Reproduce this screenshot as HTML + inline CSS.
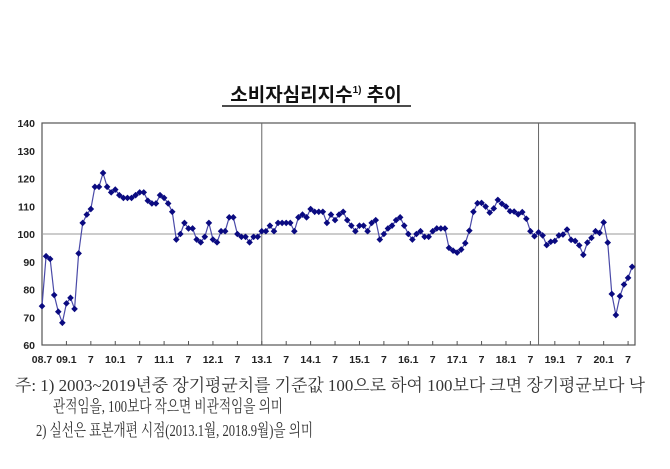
<!DOCTYPE html>
<html><head><meta charset="utf-8"><style>
body{margin:0;background:#fff;width:670px;height:469px;overflow:hidden}
svg{display:block}
.nt{font-family:"Liberation Serif","Noto Serif CJK SC","Noto Sans CJK KR",serif;font-size:17px;fill:#333}
</style></head><body>
<svg id="c" width="670" height="469">
<text x="316" y="101" text-anchor="middle" font-family="Liberation Sans,'Noto Sans CJK KR',sans-serif" font-size="19" font-weight="bold" fill="#111">소비자심리지수<tspan font-size="10" dy="-8">1)</tspan><tspan dy="8"> 추이</tspan></text>
<line x1="222" y1="106" x2="411" y2="106" stroke="#111" stroke-width="1.5"/>
<g id="plot"></g>
<text class="nt" x="15" y="391" textLength="630" lengthAdjust="spacingAndGlyphs">주: 1) 2003~2019년중 장기평균치를 기준값 100으로 하여 100보다 크면 장기평균보다 낙</text>
<text class="nt" x="53" y="412" textLength="230" lengthAdjust="spacingAndGlyphs">관적임을, 100보다 작으면 비관적임을 의미</text>
<text class="nt" x="36" y="436" textLength="277" lengthAdjust="spacingAndGlyphs">2) 실선은 표본개편 시점(2013.1월, 2018.9월)을 의미</text>
</svg>
<script>
const values=[74,92,91,78,72,68, 75,77,73,93,104,107,109,117,117,122,117,115,
116,114,113,113,113,114,115,115,112,111,111,114, 113,111,108,98,100,104,102,102,98,97,99,104,
98,97,101,101,106,106,100,99,99,97,99,99,
101,101,103,101,104,104,104,104,101,106,107,106,
109,108,108,108,104,107,105,107,108,105,103,101,
103,103,101,104,105,98,100,102,103,105,106,103,
100,98,100,101,99,99,101,102,102,102,95,94,
93.3,94.4,96.7,101.2,108,111.1,111.2,109.9,107.7,109.2,112.3,110.9,
109.9,108.2,108.1,107.1,107.9,105.5,101,99.2,100.6,99.5,96,97.2,
97.5,99.5,99.8,101.6,97.9,97.5,95.9,92.5,96.9,98.6,101,100.4,
104.2,96.9,78.4,70.8,77.6,81.8,84.2,88.2];
const yTicks=[60,70,80,90,100,110,120,130,140];
const xLabels=["08.7","09.1","7","10.1","7","11.1","7","12.1","7","13.1","7","14.1","7","15.1","7","16.1","7","17.1","7","18.1","7","19.1","7","20.1","7"];
const xLabelIdx=[0,6,12,18,24,30,36,42,48,54,60,66,72,78,84,90,96,102,108,114,120,126,132,138,144];
const breakIdx=[54,122];
const L=42,R=635,T=123,B=345,x0=42,step=4.07;
const X=i=>x0+i*step, Y=v=>B-(v-60)*(B-T)/80;
const g=document.getElementById('plot');const NS='http://www.w3.org/2000/svg';
function mk(t,a){const e=document.createElementNS(NS,t);for(const k in a)e.setAttribute(k,a[k]);g.appendChild(e);return e;}
let e=mk('rect',{x:L,y:T,width:R-L,height:B-T,fill:'none',stroke:'#555','stroke-width':1.2});


e=mk('line',{x1:L,x2:R,y1:Y(100),y2:Y(100),stroke:'#999','stroke-width':1});


breakIdx.forEach(i=>{const l=mk('line',{x1:X(i),x2:X(i),y1:T,y2:B,stroke:'#666','stroke-width':1});

});
yTicks.forEach(v=>{const t=mk('text',{x:35,y:Y(v)+4,'text-anchor':'end','font-family':'Liberation Sans,sans-serif','font-size':10.5,'font-weight':'bold',fill:'#222'});t.textContent=v;

});
xLabels.forEach((s,k)=>{const i=xLabelIdx[k];
const tk=mk('line',{x1:X(i),x2:X(i),y1:B-4,y2:B,stroke:'#555'});


const t=mk('text',{x:X(i),y:363,'text-anchor':'middle','font-family':'Liberation Sans,sans-serif','font-size':10.5,'font-weight':'bold',fill:'#222'});t.textContent=s;

});
const ln=mk('polyline',{points:values.map((v,i)=>X(i)+','+Y(v)).join(' '),fill:'none',stroke:'#4a4aa8','stroke-width':1.2});


values.forEach((v,i)=>{const p=mk('path',{d:`M${X(i)-3.3},${Y(v)}L${X(i)},${Y(v)-3.3}L${X(i)+3.3},${Y(v)}L${X(i)},${Y(v)+3.3}Z`,fill:'#0a0a80'});

});
</script>
</body></html>
